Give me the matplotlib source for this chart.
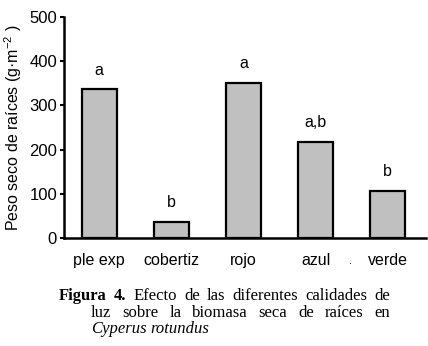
import matplotlib
matplotlib.use("Agg")
import matplotlib.pyplot as plt

plt.rcParams['font.family'] = ['Liberation Sans', 'DejaVu Sans']
plt.rcParams['mathtext.fontset'] = 'custom'
plt.rcParams['mathtext.rm'] = 'Liberation Sans'
plt.rcParams['mathtext.it'] = 'Liberation Sans'

categorias = ['ple exp', 'cobertiz', 'rojo', 'azul', 'verde']
peso = [336, 37, 351, 218, 106]
letras = ['a', 'b', 'a', 'a,b', 'b']

fig = plt.figure(figsize=(4.28, 3.46), dpi=100)
ax = fig.add_axes([0.1495, 0.312, 0.8455, 0.639])

x = list(range(len(categorias)))
ax.bar(x, peso, width=0.49, color='#c0c0c0', edgecolor='black', linewidth=1.6)
for xi, v, l in zip(x, peso, letras):
    ax.text(xi, v + 44, l, ha='center', va='center', fontsize=11.5)

ax.set_xlim(-0.49, 4.53)
ax.set_ylim(0, 500)
ax.set_yticks([0, 100, 200, 300, 400, 500])
ax.set_xticks(x)
ax.set_xticklabels(categorias)
ax.tick_params(axis='x', length=0, pad=11, labelsize=11.5)
ax.tick_params(axis='y', length=3, width=1.5, pad=2, labelsize=12)
ax.spines['top'].set_visible(False)
ax.spines['right'].set_visible(False)
ax.spines['left'].set_linewidth(1.8)
ax.spines['bottom'].set_linewidth(1.8)
ax.set_ylabel('Peso seco de raíces (g·m$^{-2}$ )', fontsize=11.5, labelpad=4)
ax.text(3.49, -52, '.', ha='center', va='center', fontsize=8, clip_on=False)

# pie de figura, justificado linea a linea
serif = 'Liberation Serif'
fs = 12
fig.canvas.draw()
r = fig.canvas.get_renderer()

def linea(palabras, x0, x1, y, justificar=True):
    objs = []
    for w, grosor, estilo in palabras:
        t = fig.text(0, 0, w, fontsize=fs, family=serif, fontweight=grosor,
                     style=estilo, va='baseline', transform=None)
        objs.append(t)
    anchos = [t.get_window_extent(r).width for t in objs]
    if justificar and len(objs) > 1:
        hueco = (x1 - x0 - sum(anchos)) / (len(objs) - 1)
    else:
        hueco = 4.0
    pos = x0
    for t, a in zip(objs, anchos):
        t.set_position((pos, 346 - y))
        pos += a + hueco

n = 'normal'
linea([('Figura', 'bold', n), ('4.', 'bold', n), ('Efecto', n, n), ('de', n, n), ('las', n, n),
       ('diferentes', n, n), ('calidades', n, n), ('de', n, n)], 59, 390, 300)
linea([('luz', n, n), ('sobre', n, n), ('la', n, n), ('biomasa', n, n), ('seca', n, n),
       ('de', n, n), ('raíces', n, n), ('en', n, n)], 91, 390, 317)
linea([('Cyperus', n, 'italic'), ('rotundus', n, 'italic')], 91, 390, 333, justificar=False)

fig.savefig('out.png', dpi=100)
